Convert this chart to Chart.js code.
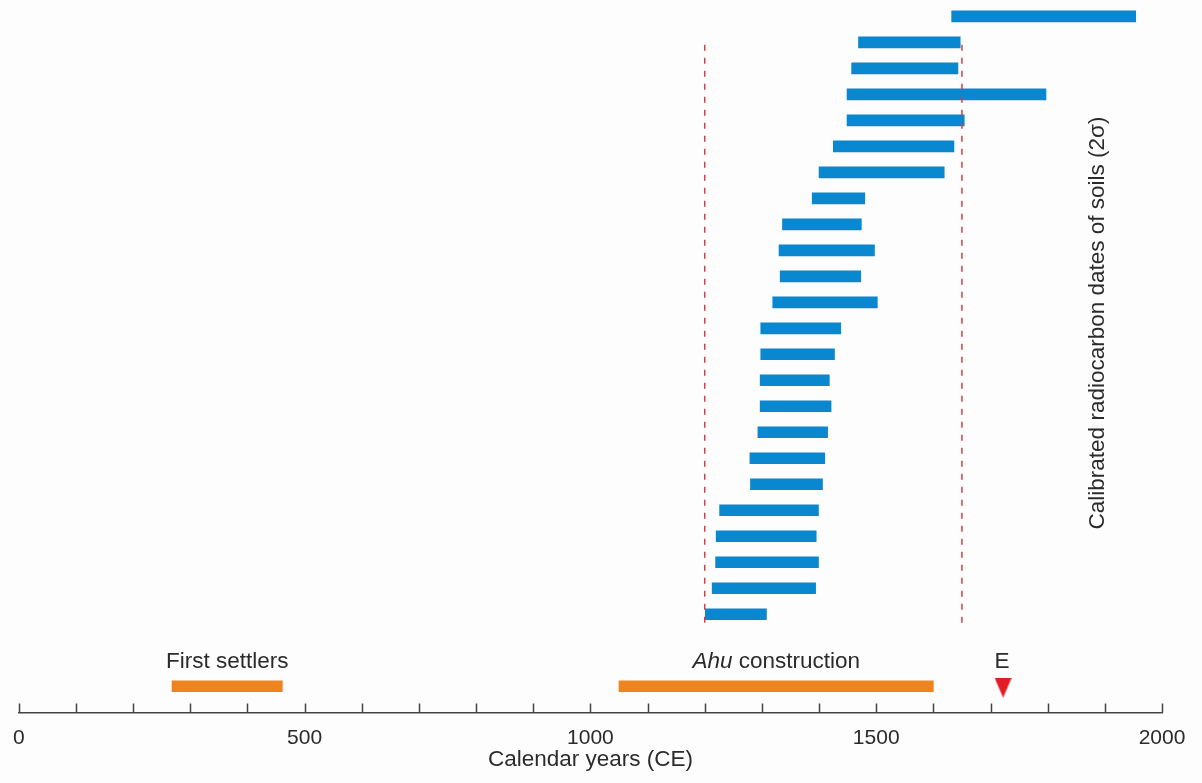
<!DOCTYPE html>
<html>
<head>
<meta charset="utf-8">
<script src="https://cdn.jsdelivr.net/npm/chart.js@4.4.1/dist/chart.umd.min.js"></script>
<style>
  html, body { margin: 0; padding: 0; background: #fdfdfd; }
  #wrap { width: 1202px; height: 783px; }
</style>
</head>
<body>
<div id="wrap"><canvas id="chart" width="1202" height="783"></canvas></div>
<script>
// calibrated radiocarbon dates of soils (2 sigma), top row first
const soilStart = [1632, 1469, 1457, 1449, 1449, 1425, 1400, 1388, 1336, 1330, 1332, 1319,
                   1298, 1298, 1297, 1297, 1293, 1279, 1280, 1226, 1220, 1219, 1213, 1201];
const soilEnd   = [1954, 1647, 1643, 1797, 1654, 1636, 1619, 1480, 1474, 1497, 1473, 1502,
                   1438, 1427, 1418, 1421, 1415, 1410, 1406, 1399, 1395, 1399, 1394, 1308];

// events along the bottom
const periodNames = ['First settlers', 'Ahu construction'];
const periodStart = [268, 1050];
const periodEnd   = [461, 1600];
const contactYear = 1722;
const contactLabel = 'E';

// reference lines
const markerYears = [1200, 1650];

const xTicksMajor = [0, 500, 1000, 1500, 2000];

// layout rows (y is a hidden linear scale)
const EVENT_ROW = 26.35;
const FONT = '"Liberation Sans", Arial, sans-serif';

const soilData = soilStart.map((s, i) => ({ x: [s, soilEnd[i]], y: i + 1 }));
const periodData = periodStart.map((s, i) => ({ x: [s, periodEnd[i]], y: EVENT_ROW }));

const markerSets = markerYears.map(yr => ({
  type: 'line',
  data: [{ x: yr, y: 1.88 }, { x: yr, y: 24.31 }],
  borderColor: '#cf4049',
  borderWidth: 1.5,
  borderDash: [6, 7],
  pointRadius: 0,
  order: 0
}));

// down-pointing triangle for the contact marker
const tri = document.createElement('canvas');
tri.width = 17; tri.height = 20;
const tctx = tri.getContext('2d');
tctx.fillStyle = '#e31d26';
tctx.beginPath();
tctx.moveTo(0, 0); tctx.lineTo(17, 0); tctx.lineTo(8.5, 20); tctx.closePath();
tctx.fill();

const annotations = {
  id: 'annotations',
  afterDraw(chart) {
    const ctx = chart.ctx;
    const xs = chart.scales.x, ys = chart.scales.y;
    ctx.save();
    // tick marks pointing up from the axis
    ctx.strokeStyle = '#444';
    ctx.lineWidth = 1.5;
    xs.ticks.forEach(t => {
      const px = Math.round(xs.getPixelForValue(t.value)) + 0.5;
      ctx.beginPath();
      ctx.moveTo(px, xs.top);
      ctx.lineTo(px, xs.top - 9);
      ctx.stroke();
    });
    // labels above the event bars
    ctx.fillStyle = '#2b2b2b';
    ctx.textBaseline = 'alphabetic';
    ctx.textAlign = 'center';
    const ly = ys.getPixelForValue(EVENT_ROW) - 12.5;
    ctx.font = '22.5px ' + FONT;
    const c0 = xs.getPixelForValue((periodStart[0] + periodEnd[0]) / 2);
    ctx.fillText(periodNames[0], c0, ly);
    // "Ahu" in italics
    const c1 = xs.getPixelForValue((periodStart[1] + periodEnd[1]) / 2);
    const parts = periodNames[1].split(' ');
    ctx.font = 'italic 22.5px ' + FONT;
    const w1 = ctx.measureText(parts[0]).width;
    ctx.font = '22.5px ' + FONT;
    const w2 = ctx.measureText(' ' + parts[1]).width;
    const sx = c1 - (w1 + w2) / 2;
    ctx.textAlign = 'left';
    ctx.font = 'italic 22.5px ' + FONT;
    ctx.fillText(parts[0], sx, ly);
    ctx.font = '22.5px ' + FONT;
    ctx.fillText(' ' + parts[1], sx + w1, ly);
    ctx.textAlign = 'center';
    ctx.fillText(contactLabel, xs.getPixelForValue(contactYear) - 1, ly);
    // vertical series title
    ctx.translate(1104, 323);
    ctx.rotate(-Math.PI / 2);
    ctx.fillText('Calibrated radiocarbon dates of soils (2\u03c3)', 0, 0);
    ctx.restore();
  }
};

new Chart(document.getElementById('chart'), {
  type: 'bar',
  data: {
    datasets: [
      ...markerSets,
      {
        data: soilData,
        backgroundColor: '#0a88cf',
        barThickness: 11,
        order: 1
      },
      {
        data: periodData,
        backgroundColor: '#ee8320',
        barThickness: 11,
        order: 1
      },
      {
        type: 'scatter',
        data: [{ x: contactYear, y: EVENT_ROW + 0.27 }],
        pointStyle: tri,
        order: 0
      }
    ]
  },
  options: {
    indexAxis: 'y',
    responsive: false,
    animation: false,
    devicePixelRatio: 1,
    layout: { padding: { left: 17.5, right: 40, top: 0, bottom: 8 } },
    plugins: { legend: { display: false }, tooltip: { enabled: false } },
    scales: {
      y: {
        type: 'linear',
        display: false,
        reverse: true,
        offset: false,
        min: 0.35,
        max: 27.57
      },
      x: {
        type: 'linear',
        position: 'bottom',
        min: 0,
        max: 2000,
        grid: { display: true, drawOnChartArea: false, drawTicks: false, tickLength: 0 },
        border: { display: true, color: '#444', width: 1.5 },
        ticks: {
          stepSize: 100,
          autoSkip: false,
          maxRotation: 0,
          padding: 13,
          color: '#2b2b2b',
          font: { family: FONT, size: 21 },
          callback: v => xTicksMajor.includes(v) ? String(v) : ''
        },
        title: {
          display: true,
          text: 'Calendar years (CE)',
          color: '#2b2b2b',
          font: { family: FONT, size: 22.5 },
          padding: { top: -17.7, bottom: 2 }
        }
      }
    }
  },
  plugins: [annotations]
});
</script>
</body>
</html>
